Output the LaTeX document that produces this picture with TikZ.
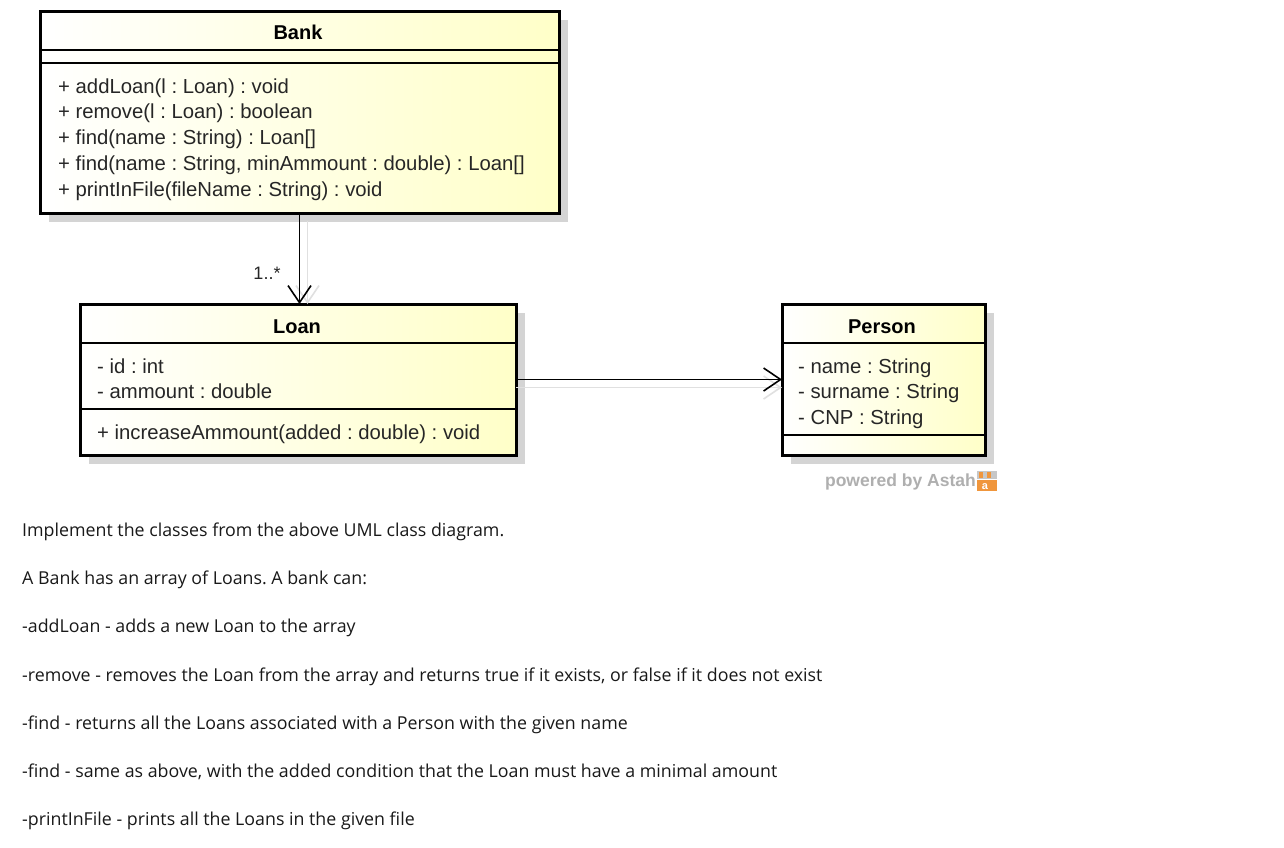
\documentclass[tikz,border=0pt]{standalone}
\usepackage{fontspec}
\setmainfont{Liberation Sans}
\newfontfamily\bodyfont{Open Sans}
\usetikzlibrary{arrows.meta}
\frenchspacing
\definecolor{clsyellow}{RGB}{255,255,200}
\definecolor{shadowgray}{RGB}{212,212,212}
\definecolor{astahgray}{RGB}{175,175,175}
\definecolor{astahorange}{RGB}{240,150,60}
\begin{document}
\begin{tikzpicture}[x=1pt,y=-1pt,
  classbox/.style={draw=black, line width=3pt, left color=white, right color=clsyellow,
    inner sep=0pt, outer sep=0pt, anchor=north west},
  shadowbox/.style={fill=shadowgray, draw=none, inner sep=0pt, outer sep=0pt, anchor=north west},
  sepline/.style={draw=black, line width=1.4pt},
  member/.style={anchor=base west, inner sep=0pt, font=\fontsize{20.3}{22}\selectfont, text=black!85},
  title/.style={anchor=base, inner sep=0pt, font=\fontsize{20}{22}\selectfont\bfseries},
  assoc/.style={draw=black, line width=1.6pt, -{Straight Barb[length=17pt,width=23pt,line width=1.6pt]}},
  assocshadow/.style={draw=black!12, line width=1.6pt, -{Straight Barb[length=17pt,width=23pt,line width=1.6pt]}},
  bodytext/.style={anchor=base west, inner sep=0pt, font=\bodyfont\fontsize{17.8}{20}\selectfont, text=black!90}
]
\useasboundingbox (0,0) rectangle (1284,847);
\fill[white] (0,0) rectangle (1284,847);

% shadows
\node[shadowbox, minimum width=519pt, minimum height=202pt] (bankshadow) at (49,20) {};
\node[shadowbox, minimum width=436pt, minimum height=151pt] (loanshadow) at (89,313) {};
\node[shadowbox, minimum width=203pt, minimum height=151pt] (personshadow) at (791,313) {};

% Bank
\node[classbox, minimum width=519pt, minimum height=202pt] (bank) at (40,11) {};
\draw[sepline] (bank.west |- 0,50) -- (bank.east |- 0,50);
\draw[sepline] (bank.west |- 0,63) -- (bank.east |- 0,63);
\node[title] (banktitle) at (298,39) {Bank};
\node[member] (bop1) at (58,93) {+ addLoan(l : Loan) : void};
\node[member] (bop2) at (58,118) {+ remove(l : Loan) : boolean};
\node[member] (bop3) at (58,144) {+ find(name : String) : Loan[]};
\node[member] (bop4) at (58,170) {+ find(name : String, minAmmount : double) : Loan[]};
\node[member] (bop5) at (58,196) {+ printInFile(fileName : String) : void};

% Loan
\node[classbox, minimum width=436pt, minimum height=151pt] (loan) at (80,304) {};
\draw[sepline] (loan.west |- 0,343) -- (loan.east |- 0,343);
\draw[sepline] (loan.west |- 0,409) -- (loan.east |- 0,409);
\node[title] (loantitle) at (297,333) {Loan};
\node[member] (lat1) at (97,373) {- id : int};
\node[member] (lat2) at (97,398) {- ammount : double};
\node[member] (lop1) at (97,439) {+ increaseAmmount(added : double) : void};

% Person
\node[classbox, minimum width=203pt, minimum height=151pt] (person) at (782,304) {};
\draw[sepline] (person.west |- 0,343) -- (person.east |- 0,343);
\draw[sepline] (person.west |- 0,435) -- (person.east |- 0,435);
\node[title] (persontitle) at (882,333) {Person};
\node[member] (pat1) at (798,373) {- name : String};
\node[member] (pat2) at (798,398) {- surname : String};
\node[member] (pat3) at (798,424) {- CNP : String};

% connector shadows
\draw[assocshadow] ([xshift=8pt,yshift=-8pt]bank.south) -- ([xshift=8pt]bank.south |- loan.north);
\draw[assocshadow] ([yshift=-8pt]loan.east) -- ([yshift=-8pt]person.west);

% connectors
\draw[assoc] (bank.south) -- (bank.south |- loan.north);
\draw[assoc] (loan.east) -- (person.west);
\node[anchor=base, inner sep=0pt, font=\fontsize{18}{20}\selectfont, text=black!85] (mult) at (267,279) {1..*};

% powered by Astah
\node[anchor=base east, inner sep=0pt, font=\fontsize{17.5}{20}\selectfont\bfseries, text=astahgray] (powered) at (976,486) {powered by Astah};
\fill[astahgray!70] (977,471) rectangle (997,479);
\fill[astahorange] (979,472) rectangle (983,478);
\fill[astahorange] (987,472) rectangle (991,478);
\fill[astahorange] (977,480) rectangle (997,491);
\node[anchor=base, inner sep=0pt, font=\fontsize{11}{12}\selectfont\bfseries, text=white] (astaha) at (985,489) {a};

% body text
\node[bodytext] (t1) at (22,536) {Implement the classes from the above UML class diagram.};
\node[bodytext] (t2) at (22,584) {A Bank has an array of Loans. A bank can:};
\node[bodytext] (t3) at (22,632) {-addLoan - adds a new Loan to the array};
\node[bodytext] (t4) at (22,681) {-remove - removes the Loan from the array and returns true if it exists, or false if it does not exist};
\node[bodytext] (t5) at (22,729) {-find - returns all the Loans associated with a Person with the given name};
\node[bodytext] (t6) at (22,777) {-find - same as above, with the added condition that the Loan must have a minimal amount};
\node[bodytext] (t7) at (22,825) {-printInFile - prints all the Loans in the given file};
\end{tikzpicture}
\end{document}
